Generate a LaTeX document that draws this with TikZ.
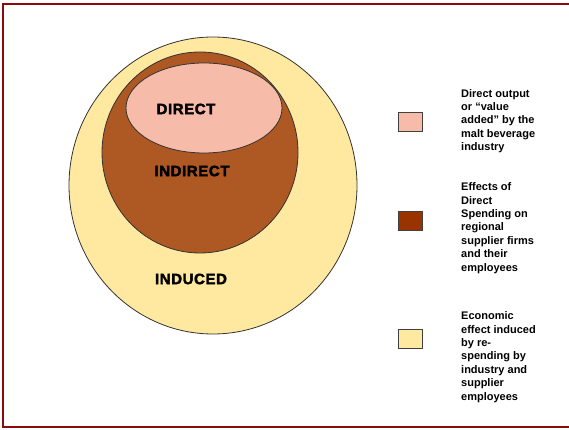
\documentclass[tikz,border=0pt]{standalone}
\usepackage{fontspec}
\setmainfont{Liberation Sans}
\newfontfamily\heavyfont[BoldFeatures={FakeBold=2.5,LetterSpace=4}]{Liberation Sans}
\begin{document}
\begin{tikzpicture}[x=1pt,y=1pt,
  frameline/.style={draw=darkred, line width=2.2pt},
  region/.style={draw=black!80, line width=0.8pt},
  biglabel/.style={font=\heavyfont\fontsize{15}{15}\selectfont\bfseries, text=black},
  legbox/.style={draw=black!75, line width=0.8pt, minimum width=24pt, minimum height=19pt, inner sep=0pt},
  legtext/.style={font=\fontsize{11}{13.4}\selectfont\bfseries, align=left, anchor=west, inner sep=0pt}]
\definecolor{darkred}{HTML}{8B0A0A}
\definecolor{yel}{HTML}{FFE9A1}
\definecolor{brn}{HTML}{AE5823}
\definecolor{pnk}{HTML}{F7BBA9}
\definecolor{brnbox}{HTML}{993300}
\useasboundingbox (0,0) rectangle (569,430);
\fill[white] (0,0) rectangle (569,430);
% frame
\coordinate (tl) at (3,426);
\coordinate (tr) at (569,426);
\coordinate (bl) at (3,3);
\coordinate (br) at (569,3);
\draw[frameline] (tr) -- (tl) -- (bl) -- (br);
% regions
\path[region, fill=yel] (213,244.5) ellipse [x radius=144, y radius=148.5];
\path[region, fill=brn] (200,277.5) ellipse [x radius=98, y radius=100.5];
\path[region, fill=pnk] (204,322) ellipse [x radius=78, y radius=45];
\node[biglabel] (direct) at (186,321) {DIRECT};
\node[biglabel] (indirect) at (192,259) {INDIRECT};
\node[biglabel] (induced) at (191,151) {INDUCED};
% legend
\node[legbox, fill=pnk] (b1) at (410,308.5) {};
\node[legbox, fill=brnbox] (b2) at (410,209.5) {};
\node[legbox, fill=yel] (b3) at (410,91) {};
\node[legtext] (t1) at (461,309) {Direct output\\or “value\\added” by the\\malt beverage\\industry};
\node[legtext] (t2) at (461,202) {Effects of\\Direct\\Spending on\\regional\\supplier firms\\and their\\employees};
\node[legtext] (t3) at (461,73) {Economic\\effect induced\\by re-\\spending by\\industry and\\supplier\\employees};
\end{tikzpicture}
\end{document}
